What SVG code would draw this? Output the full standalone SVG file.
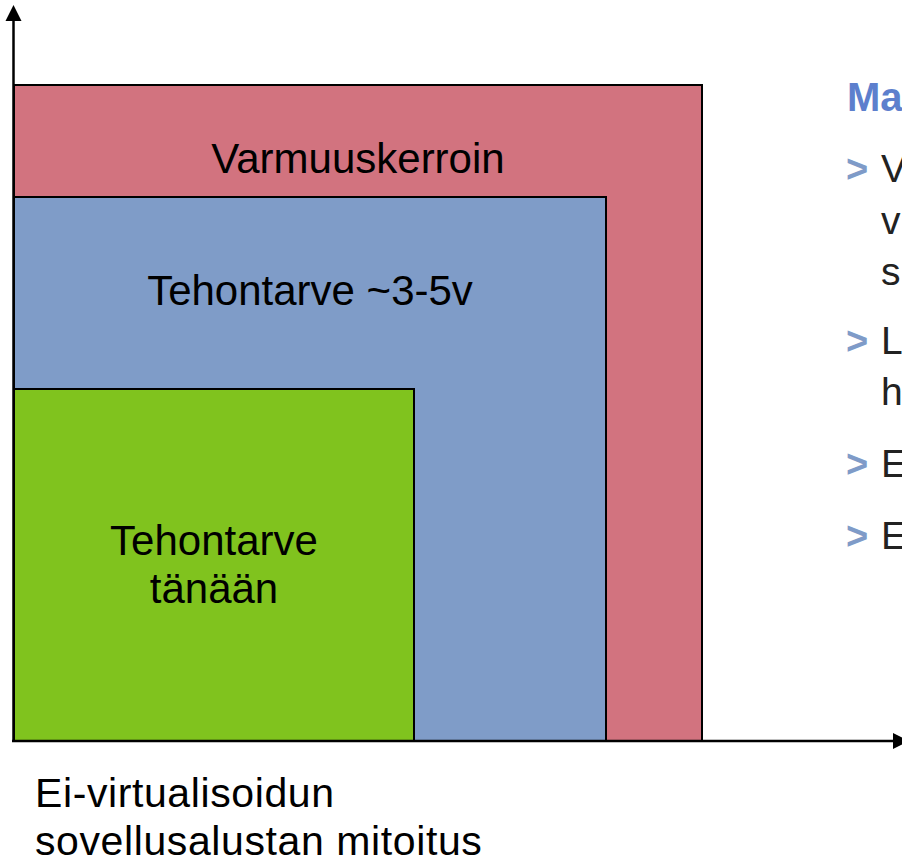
<svg xmlns="http://www.w3.org/2000/svg" width="902" height="863" viewBox="0 0 902 863">
<style>
  .box { stroke: #000; stroke-width: 2; }
  .lbl { font-family: "Liberation Sans", Arial, sans-serif; font-size: 42px; fill: #000; text-anchor: middle; }
  .cap { font-family: "Liberation Sans", Arial, sans-serif; font-size: 41px; fill: #000; letter-spacing: 0.6px; }
  .side { font-family: "Liberation Sans", Arial, sans-serif; font-size: 39px; fill: #222; }
  .bul { font-family: "Liberation Sans", Arial, sans-serif; font-size: 38px; font-weight: bold; fill: #7f9bc8; }
  .head { font-family: "Liberation Sans", Arial, sans-serif; font-size: 40px; font-weight: bold; fill: #5d7fcd; }
  .axis { stroke: #000; stroke-width: 2.5; fill: none; }
</style>
<rect width="902" height="863" fill="#fff"/>
<g id="varmuuskerroin">
  <rect class="box" x="14" y="85" width="688" height="656" fill="#d2737f"/>
  <text class="lbl" x="358" y="173">Varmuuskerroin</text>
</g>
<g id="tehontarve-3-5v">
  <rect class="box" x="14" y="197" width="592" height="544" fill="#7f9cc8"/>
  <text class="lbl" x="310" y="305">Tehontarve ~3-5v</text>
</g>
<g id="tehontarve-tanaan">
  <rect class="box" x="14" y="389" width="400" height="352" fill="#80c31e"/>
  <text class="lbl" x="214" y="555">Tehontarve</text>
  <text class="lbl" x="214" y="603">tänään</text>
</g>
<g id="connectors">
  <line class="axis" x1="13.5" y1="742" x2="13.5" y2="19"/>
  <polygon points="13.5,5 5.5,21 21.5,21" fill="#000"/>
  <line class="axis" x1="12" y1="741" x2="894" y2="741"/>
  <polygon points="893,733 893,749 909,741" fill="#000"/>
</g>
<g id="axis-caption">
  <text class="cap" x="35" y="807">Ei-virtualisoidun</text>
  <text class="cap" x="35" y="855">sovellusalustan mitoitus</text>
</g>
<g id="side-text">
  <text class="head" x="847" y="111">Ma</text>
  <text class="bul" x="846" y="182">&gt;</text>
  <text class="side" x="881" y="182">V</text>
  <text class="side" x="881" y="234">v</text>
  <text class="side" x="881" y="285">s</text>
  <text class="bul" x="846" y="354">&gt;</text>
  <text class="side" x="881" y="354">L</text>
  <text class="side" x="881" y="405">h</text>
  <text class="bul" x="846" y="477">&gt;</text>
  <text class="side" x="881" y="477">E</text>
  <text class="bul" x="846" y="549">&gt;</text>
  <text class="side" x="881" y="549">E</text>
</g>
</svg>
